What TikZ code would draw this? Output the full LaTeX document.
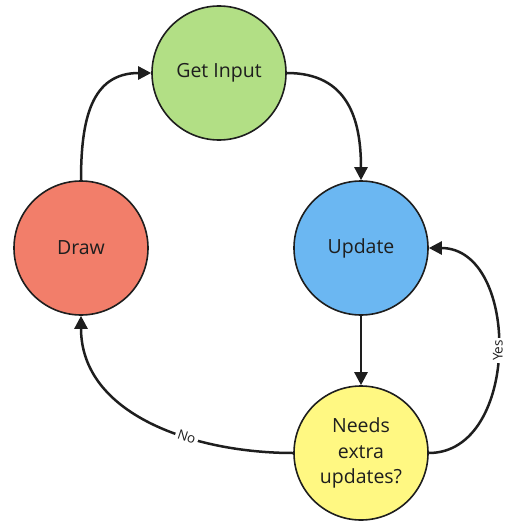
\documentclass[tikz,border=0pt]{standalone}
\usepackage{fontspec}
\setmainfont{Open Sans}
\usetikzlibrary{positioning,arrows.meta}

\definecolor{cinput}{RGB}{178,223,133}
\definecolor{cupdate}{RGB}{107,183,242}
\definecolor{cdraw}{RGB}{242,126,106}
\definecolor{ccheck}{RGB}{255,248,130}
\definecolor{ink}{RGB}{30,30,30}

\begin{document}
\begin{tikzpicture}[
  x=1pt, y=-1pt,
  st/.style={draw=ink, circle, line width=1.6pt, minimum size=134pt,
             inner sep=0pt, align=center, text=ink,
             font=\fontsize{19.5}{25.5}\selectfont},
  sinput/.style={st, fill=cinput},
  supdate/.style={st, fill=cupdate},
  sdraw/.style={st, fill=cdraw},
  scheck/.style={st, fill=ccheck},
  arr/.style={-{Triangle[length=13pt,width=13pt]}, line width=2.5pt, draw=ink},
  lbl/.style={font=\fontsize{13.5}{15}\selectfont, text=ink, fill=white,
              inner sep=2.5pt, sloped}
]
\useasboundingbox (0,0) rectangle (509,524);

%% ── nodes ───────────────────────────────────────────────────────────────
\node[sinput]  (inp) at (219, 73)  {Get Input};
\node[sdraw]   (drw) at (81, 248)  {Draw};
\node[supdate] (upd) at (361,248)  {Update};
\node[scheck]  (chk) at (361,453)  {Needs\\ extra\\ updates?};

%% ── edges ───────────────────────────────────────────────────────────────
\draw[arr] (drw.north) to[out=90,in=180,looseness=1.2] (inp.west);
\draw[arr] (inp.east)  to[out=0,in=90,looseness=1.2]   (upd.north);
\draw[arr] (upd) -- (chk);

% Needs extra updates? -> back to Update / on to Draw
\draw[arr] (chk.east) to[out=0,in=0,looseness=1.15]
           node[lbl,pos=0.5]{Yes} (upd.east);
\draw[arr] (chk.west) to[out=180,in=-90]
           node[lbl,pos=0.36]{No} (drw.south);

\end{tikzpicture}
\end{document}
